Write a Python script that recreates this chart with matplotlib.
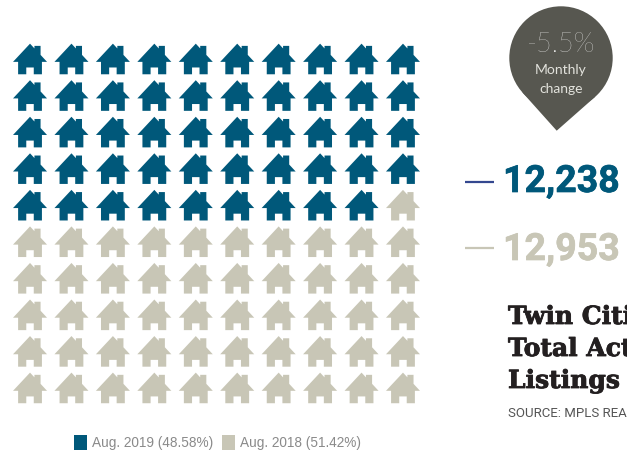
import matplotlib
matplotlib.use('Agg')
import matplotlib.pyplot as plt
import matplotlib.patheffects as pe
from matplotlib.patches import Circle, Polygon, Rectangle
from matplotlib.path import Path
import numpy as np

# --- datos ---
series_names = ['Aug. 2019', 'Aug. 2018']
series_share = [48.58, 51.42]
series_listings = [12238, 12953]
monthly_change = -5.5
n_cols = 10
n_rows = 10

BLUE = '#00587a'
TAN = '#c8c6b6'
PIN = '#575750'
W, H = 627, 453

# --- icono de casa ---
house = Path([
    (0, 0.9), (0.26, 0.62), (0.26, 0.77), (0.62, 0.77), (0.62, 0.24), (1, -0.17),
    (0.7, -0.17), (0.7, -0.9), (0.22, -0.9), (0.22, -0.5), (-0.22, -0.5),
    (-0.22, -0.9), (-0.7, -0.9), (-0.7, -0.17), (-1, -0.17), (0, 0.9),
], closed=True)

fig = plt.figure(figsize=(W / 100, H / 100), dpi=100)

# capa en pixeles para lo que no es la grilla
bg = fig.add_axes([0, 0, 1, 1])
bg.set_xlim(0, W)
bg.set_ylim(H, 0)
bg.axis('off')

# grilla de casas, se llena de arriba a abajo
left, right, top, bottom = 9.3, 423.7, 40.7, 406.2
ax = fig.add_axes([left / W, 1 - bottom / H, (right - left) / W, (bottom - top) / H])
ax.set_xlim(-0.5, n_cols - 0.5)
ax.set_ylim(n_rows - 0.5, -0.5)
ax.axis('off')

n_first = round(series_share[0] / 100 * n_cols * n_rows)
rows, cols = np.divmod(np.arange(n_cols * n_rows), n_cols)
colors = [BLUE if i < n_first else TAN for i in range(n_cols * n_rows)]
ax.scatter(cols, rows, marker=house, s=600, c=colors, linewidths=0)

# globo con la variacion mensual
cx, cy, r = 561, 58, 51.7
tip = (556.7, 130.7)
dx, dy = tip[0] - cx, tip[1] - cy
d = np.hypot(dx, dy)
base = np.arctan2(dy, dx)
spread = np.arccos(r / d)
p1 = (cx + r * np.cos(base - spread), cy + r * np.sin(base - spread))
p2 = (cx + r * np.cos(base + spread), cy + r * np.sin(base + spread))
bg.add_patch(Circle((cx, cy), r, fc=PIN, ec='none'))
bg.add_patch(Polygon([p1, tip, p2, (cx, cy)], fc=PIN, ec='none'))
bg.text(cx, 45, f'{monthly_change}%', color='white', family='Lato', weight='light',
        fontsize=19.5, ha='center', va='center')
bg.text(cx, 70, 'Monthly', color='#e2e2dc', family='Lato',
        fontsize=10, ha='center', va='center')
bg.text(cx, 89, 'change', color='#e2e2dc', family='Lato',
        fontsize=10, ha='center', va='center')

# totales con su rayita
bold_edge = [pe.withStroke(linewidth=0.5)]
bg.plot([465, 494], [182, 182], color='#34478f', lw=1.6, solid_capstyle='butt')
bg.plot([465, 494], [248, 248], color=TAN, lw=1.6, solid_capstyle='butt')
bg.text(503, 192, f'{series_listings[0]:,}', color=BLUE, family='Roboto', weight='bold',
        fontsize=27, ha='left', va='baseline',
        path_effects=[pe.withStroke(linewidth=0.5, foreground=BLUE)])
bg.text(503, 260, f'{series_listings[1]:,}', color=TAN, family='Roboto', weight='bold',
        fontsize=27, ha='left', va='baseline',
        path_effects=[pe.withStroke(linewidth=0.5, foreground=TAN)])

# titulo, se corta en el borde derecho
for y, line in zip([324, 356, 388], ['Twin Cities', 'Total Active', 'Listings']):
    bg.text(508, y, line, color='#231f20', family='DejaVu Serif', weight='bold',
            fontsize=18, ha='left', va='baseline',
            path_effects=[pe.withStroke(linewidth=0.6, foreground='#231f20')])
bg.text(508, 417, 'SOURCE: MPLS REALTORS', color='#555555', family='Roboto',
        fontsize=9.5, ha='left', va='baseline')

# leyenda
for x, name, share, col in zip([74, 222], series_names, series_share, [BLUE, TAN]):
    bg.add_patch(Rectangle((x, 435), 13, 14.5, fc=col, ec='none'))
    bg.text(x + 17.5, 447, f'{name} ({share}%)', color='#8a8a8a', family='Liberation Sans',
            fontsize=9.8, ha='left', va='baseline')

fig.savefig('out.png', dpi=100)
